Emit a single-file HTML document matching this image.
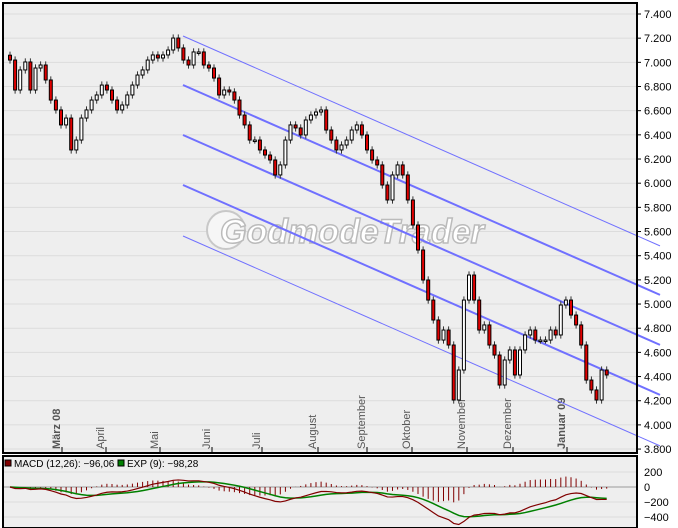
<!DOCTYPE html>
<html><head><meta charset="utf-8"><style>
body{margin:0;background:#fff;width:678px;height:528px;overflow:hidden;font-family:"Liberation Sans",sans-serif}
svg{display:block}
svg text{font-family:"Liberation Sans",sans-serif}
</style></head><body>
<svg id="c" width="678" height="528"></svg>
<script>
const priceY=[60,90,70,62,90,68,65,80,100,110,125,118,150,140,118,110,100,95,85,90,100,110,105,95,85,75,70,60,55,58,55,50,38,48,60,65,52,52,65,68,78,95,90,92,100,115,125,140,140,150,155,160,175,165,140,125,128,135,120,115,112,110,130,140,150,145,140,130,125,135,150,160,165,185,200,175,165,175,200,225,250,280,300,320,340,330,345,400,370,300,275,300,330,325,345,355,385,360,350,375,350,335,330,340,340,340,330,335,305,300,315,325,345,380,390,400,370,375];
const closes=priceY.map(y=>Math.round(7400-(y-14)/24.17*200));
const yTicks=[7400,7200,7000,6800,6600,6400,6200,6000,5800,5600,5400,5200,5000,4800,4600,4400,4200,4000,3800];
const months=["März 08","April","Mai","Juni","Juli","August","September","Oktober","November","Dezember","Januar 09"];
const monthX=[62,106,160,212,262,318,367,412,467,513,567];
const macdTicks=[200,0,-200,-400];
const NS="http://www.w3.org/2000/svg";
const svg=document.getElementById('c');
function el(t,a,p){const e=document.createElementNS(NS,t);for(const k in a)e.setAttribute(k,a[k]);(p||svg).appendChild(e);return e;}
const yP=p=>14+(7400-p)/200*24.17;
const xC=i=>10+i*5.1;
const yM=v=>487-v/200*15;
let bg=el('rect',{x:3,y:3,width:634,height:450,fill:'#eeeeee',stroke:'#000','stroke-width':2});

let bg2=el('rect',{x:3,y:456,width:634,height:72,fill:'#eeeeee',stroke:'#000','stroke-width':2});

yTicks.forEach(v=>{const y=yP(v);
 el('line',{x1:4,x2:636,y1:y,y2:y,stroke:'#dcdcdc','stroke-width':1});
 el('line',{x1:637,x2:641,y1:y,y2:y,stroke:'#000'});
 const t=el('text',{x:644,y:y+4,'font-size':11,fill:'#000'});t.textContent=(v/1000).toFixed(3);
 });
el('circle',{cx:226,cy:230,r:19,fill:'#f6f6f6',stroke:'#c8c8c8','stroke-width':2});
const wm=el('text',{x:220,y:243,'font-size':34,'font-weight':'bold','font-style':'italic',fill:'#ffffff',stroke:'#bbbbbb','stroke-width':1.5});
wm.textContent='GodmodeTrader';
months.forEach((m,i)=>{const x=monthX[i];
 el('line',{x1:x,x2:x,y1:447,y2:453,stroke:'#000'});
 const t=el('text',{transform:`translate(${x-2},449) rotate(-90)`,'font-size':11,fill:'#555','font-weight':(i==0||i==10)?'bold':'normal'});
 t.textContent=m;});
const chStart=[36,85,135,185,236];const chW=[1,2,2,2,1];
chStart.forEach((y0,i)=>{const l=el('line',{x1:183,y1:y0,x2:660,y2:y0+0.44*477,stroke:'#7070ff','stroke-width':chW[i]});
 });
closes.forEach((c,i)=>{const o=i?closes[i-1]:c+40;const hi=Math.max(o,c)+30,lo=Math.min(o,c)-30;const x=xC(i);
 el('line',{x1:x,x2:x,y1:yP(hi),y2:yP(lo),stroke:'#333'});
 const top=yP(Math.max(o,c)),h=Math.max(1.5,Math.abs(yP(o)-yP(c)));
 const r=el('rect',{x:x-1.5,y:top,width:3,height:h,fill:c<o?'#e00000':'#ffffff',stroke:'#000','stroke-width':1});
 });
el('line',{x1:637,x2:637,y1:3,y2:453,stroke:'#000','stroke-width':2});
function ema(a,n){const k=2/(n+1);let out=[],e=a[0];a.forEach(v=>{e=v*k+e*(1-k);out.push(e);});return out;}
const e12=ema(closes,12),e26=ema(closes,26);const macd=e12.map((v,i)=>v-e26[i]);const sig=ema(macd,9);
macdTicks.forEach(v=>{const y=yM(v);
 el('line',{x1:4,x2:636,y1:y,y2:y,stroke:v==0?'#999':'#dcdcdc'});
 const t=el('text',{x:644,y:y+4,'font-size':11});t.textContent=v==0?'0':(v<0?'−'+(-v):v);
 });
macd.forEach((v,i)=>{const h=(v-sig[i])*1.5;el('line',{x1:xC(i),x2:xC(i),y1:yM(0),y2:yM(h),stroke:'#800000'});});
let p1=el('polyline',{points:sig.map((v,i)=>xC(i)+','+yM(v)).join(' '),fill:'none',stroke:'#008000','stroke-width':1.5});

let p2=el('polyline',{points:macd.map((v,i)=>xC(i)+','+yM(v)).join(' '),fill:'none',stroke:'#800000','stroke-width':1.2});

el('rect',{x:5,y:460,width:6,height:6,fill:'#800000',stroke:'#000'});
let lt=el('text',{x:14,y:467,'font-size':10});lt.textContent='MACD (12,26): −96,06';
el('rect',{x:118,y:460,width:6,height:6,fill:'#008000',stroke:'#000'});
let lt2=el('text',{x:127,y:467,'font-size':10});lt2.textContent='EXP (9): −98,28';
</script>
</body></html>
